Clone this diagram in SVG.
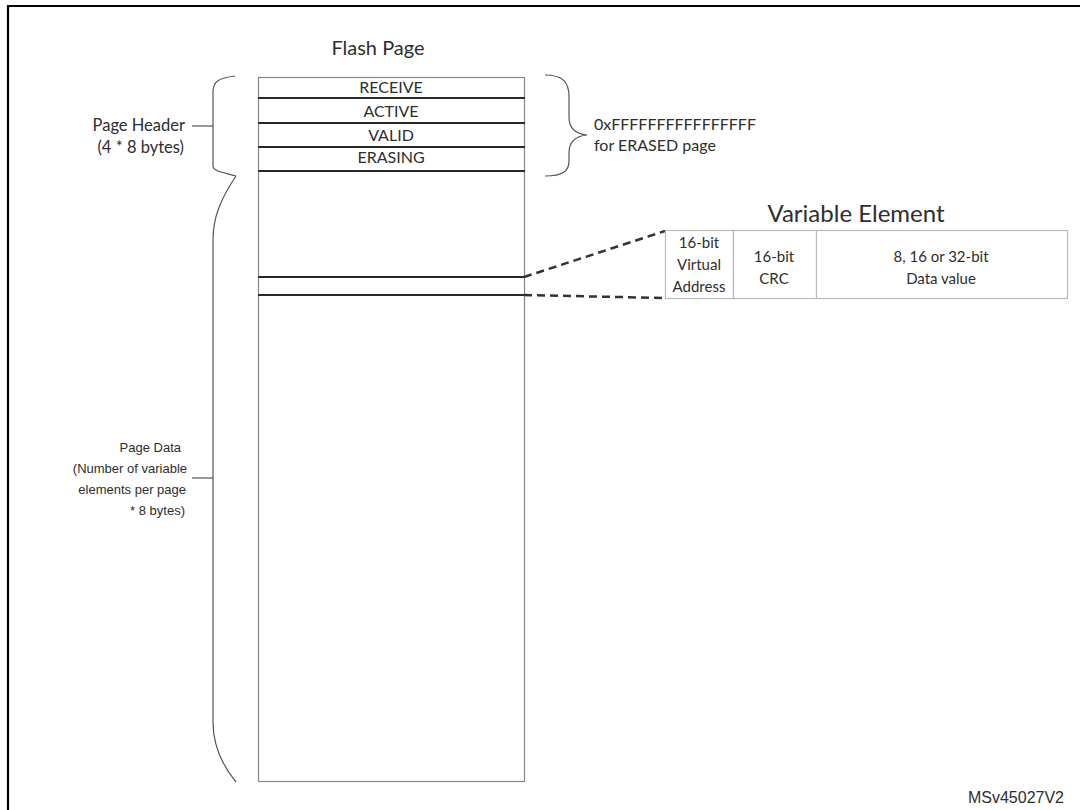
<svg xmlns="http://www.w3.org/2000/svg" width="1080" height="810" viewBox="0 0 1080 810">
  <style>
    .cal { font-family: Lato, "Open Sans", sans-serif; fill: #2e2e2e; }
    .ari { font-family: "Liberation Sans", Arial, sans-serif; fill: #2e2e2e; }
    .brace { fill: none; stroke: #555; stroke-width: 1.2; }
    .sep { stroke: #2a2a2a; stroke-width: 2.2; }
    .cell { fill: #fff; stroke: #bbb; stroke-width: 1.2; }
    .dash { fill: none; stroke: #333; stroke-width: 2.5; stroke-dasharray: 8 5; }
  </style>

  <rect width="1080" height="810" fill="#fff"/>

  <!-- frame -->
  <path d="M8,810 V6 H1080" fill="none" stroke="#000" stroke-width="2.2"/>

  <!-- flash page -->
  <g id="flash-page">
    <text class="cal" x="378" y="55" font-size="20" text-anchor="middle">Flash Page</text>
    <rect x="258.5" y="77.5" width="266" height="704" fill="#fff" stroke="#888" stroke-width="1.2"/>
    <line class="sep" x1="258" y1="98" x2="525" y2="98"/>
    <line class="sep" x1="258" y1="123" x2="525" y2="123"/>
    <line class="sep" x1="258" y1="147" x2="525" y2="147"/>
    <line class="sep" x1="258" y1="171" x2="525" y2="171"/>
    <g class="cal" font-size="16" text-anchor="middle">
      <text x="391" y="93">RECEIVE</text>
      <text x="391" y="117">ACTIVE</text>
      <text x="391" y="141">VALID</text>
      <text x="391" y="163">ERASING</text>
    </g>
    <line class="sep" x1="258" y1="277" x2="525" y2="277"/>
    <line class="sep" x1="258" y1="295" x2="525" y2="295"/>
  </g>

  <!-- page header brace and label -->
  <g id="page-header">
    <path class="brace" d="M235,76 C218,78 213,82 213,92 L213,166 C213,171 222,172 236,176"/>
    <line x1="192" y1="126" x2="213" y2="126" stroke="#555" stroke-width="1.2"/>
    <text class="cal" font-size="16.5" text-anchor="end" x="185" y="131">Page Header</text>
    <text class="cal" font-size="16.5" text-anchor="end" x="184" y="153">(4 * 8 bytes)</text>
  </g>

  <!-- page data brace and label -->
  <g id="page-data">
    <path class="brace" d="M236,176 C220,200 213,218 213,240 L213,722 C213,745 222,765 236,782"/>
    <line x1="192" y1="478" x2="213" y2="478" stroke="#555" stroke-width="1.2"/>
    <g class="ari" font-size="13" text-anchor="end">
      <text x="181" y="452">Page Data</text>
      <text x="187" y="473">(Number of variable</text>
      <text x="186" y="494">elements per page</text>
      <text x="185" y="515">* 8 bytes)</text>
    </g>
  </g>

  <!-- erased-page brace and note -->
  <g id="erased-note">
    <path class="brace" d="M545,75 C563,75 569,82 569,97 L569,117 C569,129 576,134 587,135 C576,136 569,141 569,153 L569,161 C569,171 563,176 545,176"/>
    <text class="cal" font-size="16" x="594" y="130">0xFFFFFFFFFFFFFFFF</text>
    <text class="cal" font-size="16" x="594" y="151">for ERASED page</text>
  </g>

  <!-- connectors -->
  <g id="connectors">
    <path class="dash" d="M524,277 L665,231"/>
    <path class="dash" d="M524,295 L665,298"/>
  </g>

  <!-- variable element -->
  <g id="variable-element">
    <text class="cal" font-size="24" text-anchor="middle" x="856" y="222">Variable Element</text>
    <rect class="cell" x="665.5" y="230.5" width="68" height="68"/>
    <rect class="cell" x="733.5" y="230.5" width="83" height="68"/>
    <rect class="cell" x="816.5" y="230.5" width="251" height="68"/>
    <g class="cal" font-size="15" text-anchor="middle">
      <text x="699" y="248">16-bit</text>
      <text x="699" y="270">Virtual</text>
      <text x="699" y="292">Address</text>
      <text x="774" y="262">16-bit</text>
      <text x="774" y="284">CRC</text>
      <text x="941" y="262">8, 16 or 32-bit</text>
      <text x="941" y="284">Data value</text>
    </g>
  </g>

  <text class="ari" font-size="16" x="1064" y="803" text-anchor="end">MSv45027V2</text>
</svg>
